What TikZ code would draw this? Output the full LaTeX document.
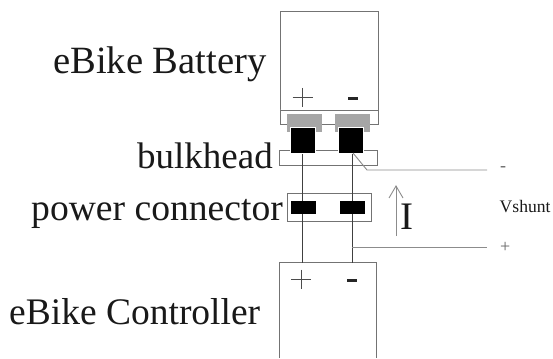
\documentclass[tikz,border=0pt]{standalone}
\usepackage{fontspec}
\setmainfont{Liberation Serif}
\begin{document}
\begin{tikzpicture}[x=1pt,y=-1pt,
  outline/.style={draw=black!55,line width=0.9pt,fill=white},
  wire/.style={draw=black!75,line width=1.6pt},
  thin wire/.style={draw=black!45,line width=0.9pt},
  lab/.style={inner sep=0pt,anchor=base west,text=black!90},
  graypad/.style={fill=black!35,draw=none},
  blackpad/.style={fill=black,draw=white,line width=0.8pt}]
\useasboundingbox (0,0) rectangle (553,358);
\fill[white] (0,0) rectangle (553,358);
% battery
\draw[outline] (280,11) rectangle (378,124);
\draw[outline] (280,110) -- (378,110);
% bulkhead
\draw[outline] (279,150) rectangle (377,165);
% grey contacts
\fill[graypad] (287,114) rectangle (322,132);
\fill[graypad] (335,114) rectangle (370,132);
% connector
\draw[outline] (287,193) rectangle (371,221);
% controller
\draw[outline] (279,358) -- (279,262.5) -- (376,262.5) -- (376,358);
% wires
\coordinate (wl0) at (302.5,150);
\coordinate (wl1) at (302.5,262.5);
\coordinate (wr0) at (352.5,150);
\coordinate (wr1) at (352.5,262.5);
\draw[wire] (wl0) -- (wl1);
\draw[wire] (wr0) -- (wr1);
% black pads
\draw[blackpad] (290.5,127.5) rectangle (315.5,153.5);
\draw[blackpad] (338.5,127.5) rectangle (363.5,153.5);
\fill[black] (291,201) rectangle (316,213.5);
\fill[black] (340,201) rectangle (365,213.5);
% shunt lines
\coordinate (sm) at (487,170);
\coordinate (sp) at (487,247);
\draw[thin wire] (353,153) -- (367,170) -- (sm);
\draw[thin wire] (352,247) -- (sp);
% current arrow
\coordinate (ia) at (396,236);
\coordinate (ib) at (396,186);
\draw[thin wire] (ia) -- (ib);
\draw[thin wire] (389,198) -- (ib) -- (403,198);
% plus / minus in boxes
\draw[draw=black!70,line width=1.2pt] (292.5,97.5) -- (312.5,97.5) (302.5,88) -- (302.5,107.5);
\fill[black!85] (348,97) rectangle (358,100);
\draw[draw=black!70,line width=1.2pt] (291,279.5) -- (311,279.5) (301.5,269.5) -- (301.5,289);
\fill[black!85] (347,278.5) rectangle (357,281.5);
% labels
\node[lab,font=\fontsize{38.6}{38.6}\selectfont] (bat) at (53,74) {eBike Battery};
\node[lab,font=\fontsize{37}{37}\selectfont] (bulk) at (137,168) {bulkhead};
\node[lab,font=\fontsize{37.6}{37.6}\selectfont] (pow) at (31,220) {power connector};
\node[lab,font=\fontsize{37.5}{37.5}\selectfont] (ctl) at (9,324) {eBike Controller};
\node[lab,font=\fontsize{39}{39}\selectfont] (cur) at (400,229) {I};
\node[lab,font=\fontsize{17.6}{17.6}\selectfont] (vs) at (499.5,212) {Vshunt};
\node[lab,font=\fontsize{18}{18}\selectfont,text=black!60] (mn) at (500,171) {-};
\node[lab,font=\fontsize{18}{18}\selectfont,text=black!60] (pl) at (500,252) {+};
\end{tikzpicture}
\end{document}
